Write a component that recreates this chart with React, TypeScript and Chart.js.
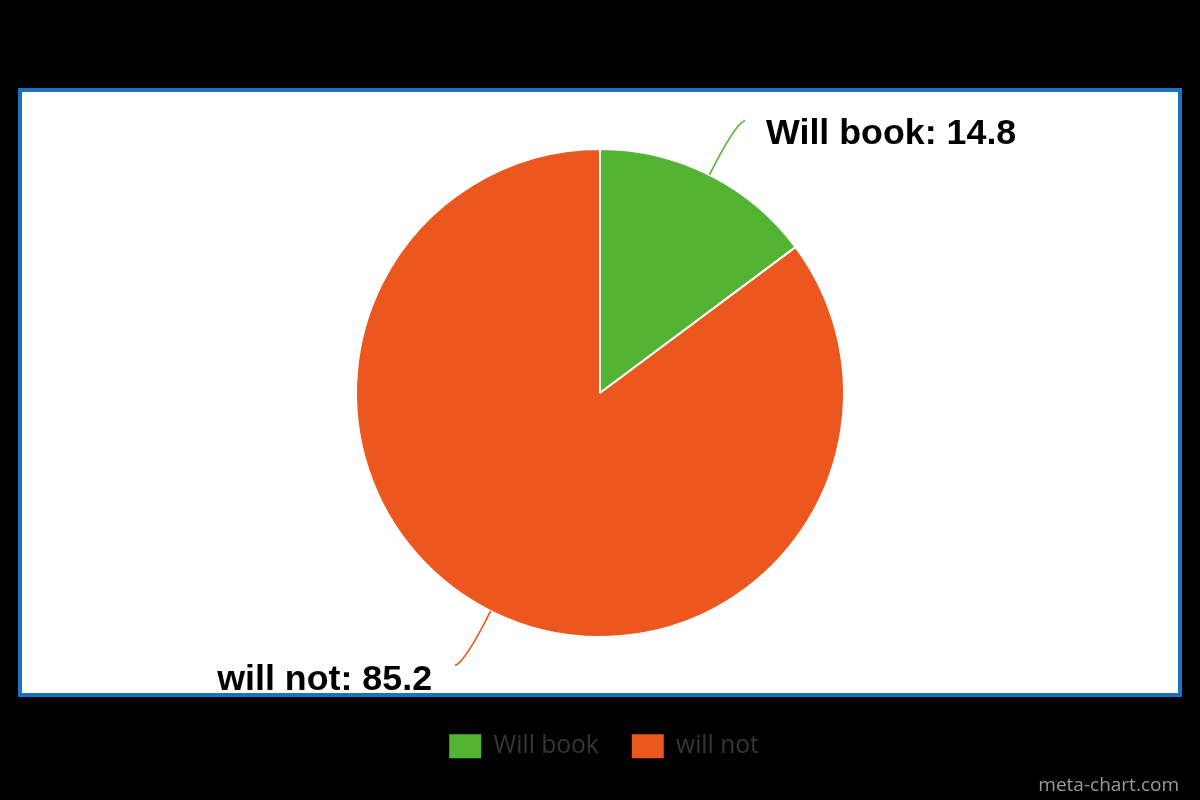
import React, { useEffect, useRef } from "react";
import { Chart, registerables } from "chart.js";

Chart.register(...registerables);

const categories = ["Will book", "will not"];
const values = [14.8, 85.2];
const labelNames = ["Will book", "will not"];
const sliceColors = ["#53B434", "#EC571F"];

const framePlugin = {
  id: "frame",
  afterLayout(chart: any) {
    if (chart.legend) {
      chart.legend.left += 4;
      chart.legend.right += 4;
    }
  },
  beforeDraw(chart: any) {
    const ctx = chart.ctx;
    ctx.save();
    ctx.fillStyle = "#000000";
    ctx.fillRect(0, 0, chart.width, chart.height);
    ctx.fillStyle = "#ffffff";
    ctx.fillRect(20, 90, 1160, 605);
    ctx.strokeStyle = "#1B72C2";
    ctx.lineWidth = 4;
    ctx.strokeRect(20, 90, 1160, 605);
    ctx.restore();
  },
  afterDraw(chart: any) {
    const ctx = chart.ctx;
    ctx.save();
    ctx.fillStyle = "#9a9a9a";
    ctx.font = "19px 'Open Sans'";
    ctx.textAlign = "right";
    ctx.textBaseline = "alphabetic";
    ctx.fillText("meta-chart.com", 1179, 791);
    ctx.restore();
  },
};

const calloutPlugin = {
  id: "callouts",
  afterDatasetsDraw(chart: any) {
    const ctx = chart.ctx;
    const meta = chart.getDatasetMeta(0);
    meta.data.forEach((arc: any, i: number) => {
      const { x, y, startAngle, endAngle, outerRadius } = arc.getProps(
        ["x", "y", "startAngle", "endAngle", "outerRadius"],
        true
      );
      const mid = (startAngle + endAngle) / 2;
      const cos = Math.cos(mid);
      const sin = Math.sin(mid);
      const sx = x + cos * outerRadius;
      const sy = y + sin * outerRadius;
      const cx = x + cos * (outerRadius + 57);
      const cy = y + sin * (outerRadius + 57);
      const right = cos >= 0;
      const ex = cx + (right ? 10 : -10);
      const ey = cy + (sin < 0 ? -3.5 : 3.5);
      ctx.save();
      ctx.strokeStyle = sliceColors[i];
      ctx.lineWidth = 1.6;
      ctx.beginPath();
      ctx.moveTo(sx, sy);
      ctx.quadraticCurveTo(cx, cy, ex, ey);
      ctx.stroke();
      ctx.fillStyle = "#000000";
      ctx.font = "bold 35.8px 'Liberation Sans', Arial, sans-serif";
      ctx.textBaseline = "alphabetic";
      ctx.textAlign = right ? "left" : "right";
      const text = labelNames[i] + ": " + values[i];
      ctx.fillText(text, right ? ex + 21 : ex - 23, ey + 24);
      ctx.restore();
    });
  },
};

export default function App() {
  const ref = useRef<HTMLCanvasElement>(null);
  useEffect(() => {
    if (!ref.current) return;
    const chart = new Chart(ref.current, {
      type: "pie",
      data: {
        labels: categories,
        datasets: [
          {
            data: values,
            backgroundColor: sliceColors,
            borderColor: "#ffffff",
            borderWidth: 2,
            radius: 244,
          },
        ],
      },
      options: {
        responsive: false,
        animation: false,
        layout: { padding: { top: 85, bottom: 31.4, left: 0, right: 0 } },
        plugins: {
          tooltip: { enabled: false },
          legend: {
            display: true,
            position: "bottom",
            labels: {
              boxWidth: 32,
              boxHeight: 24,
              padding: 33,
              color: "#363636",
              font: { family: "'Open Sans'", size: 24.6 },
              generateLabels(chart: any) {
                const items = Chart.overrides.pie.plugins.legend.labels.generateLabels(chart);
                return items.map((it: any) => ({ ...it, lineWidth: 0, strokeStyle: "rgba(0,0,0,0)" }));
              },
            },
          },
        },
      },
      plugins: [framePlugin, calloutPlugin],
    });
    return () => chart.destroy();
  }, []);
  return (
    <div style={{ position: "fixed", left: 0, top: 0, width: 1200, height: 800, background: "#000" }}>
      <canvas ref={ref} width={1200} height={800} style={{ display: "block" }} />
    </div>
  );
}
